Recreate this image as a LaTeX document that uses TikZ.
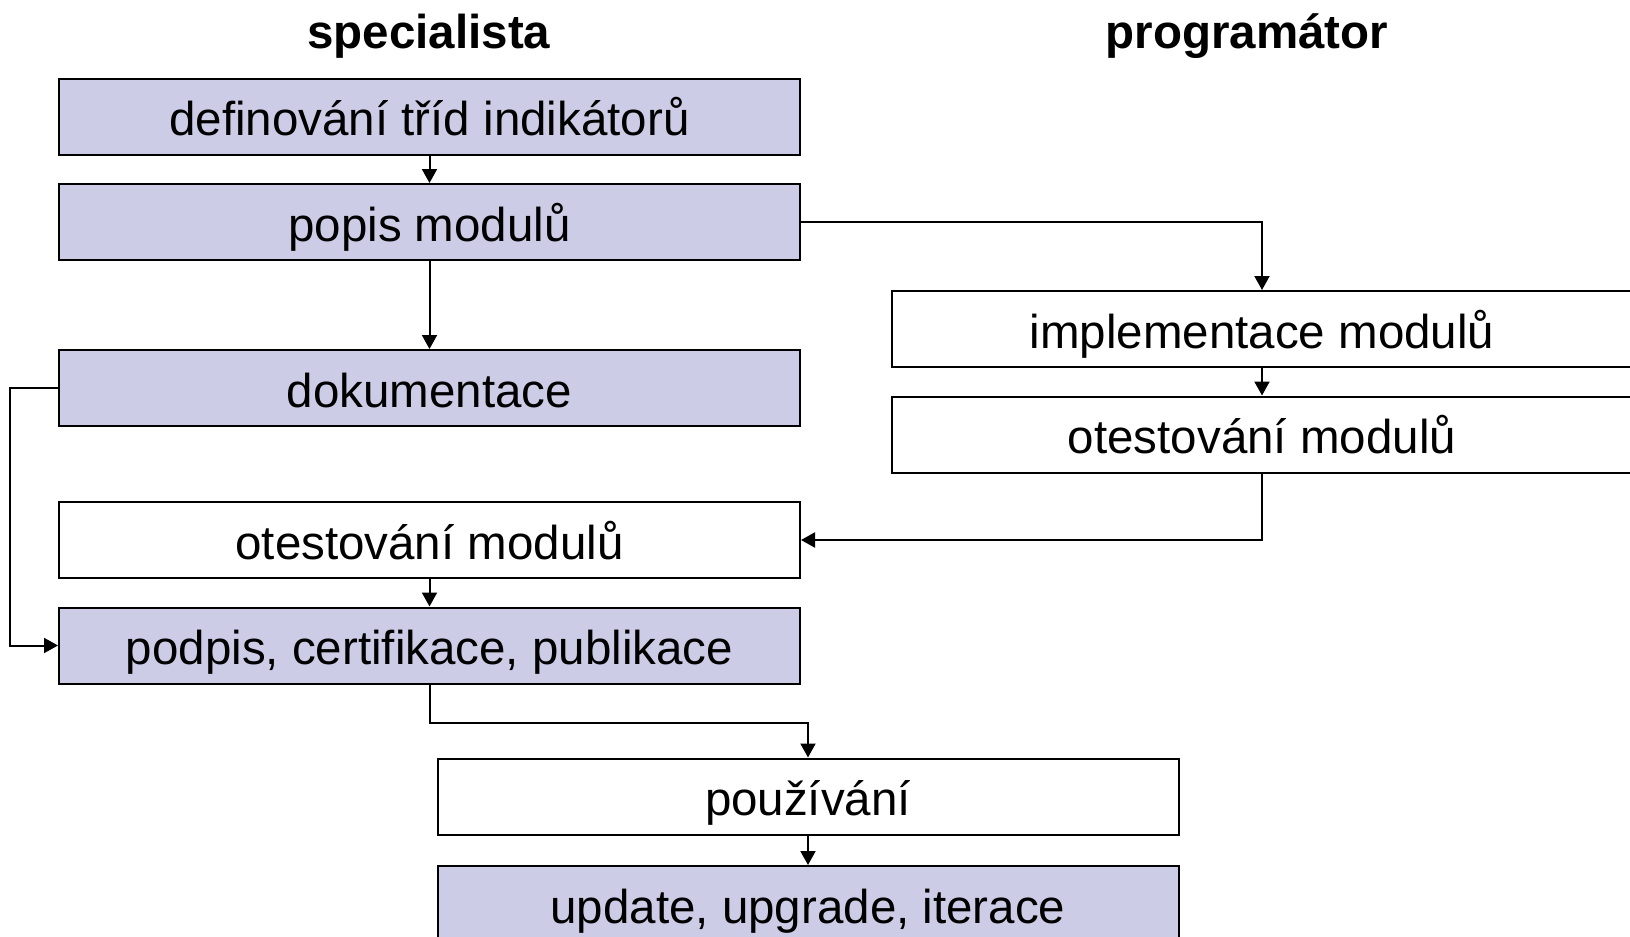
\documentclass[tikz,border=0pt]{standalone}
\usepackage{fontspec}
\setmainfont{Liberation Sans}
\usepackage{xcolor}
\usepackage{tikz}
\usetikzlibrary{arrows.meta,positioning,calc}
\definecolor{fialova}{RGB}{204,204,230}

\begin{document}
\begin{tikzpicture}[x=0.5pt, y=-0.5pt, >={Triangle[length=7pt,width=7.5pt]},
    every node/.style={font=\fontsize{23.75}{28}\selectfont},
    krok/.style={draw, line width=1pt, minimum width=370.5pt, minimum height=38pt, inner sep=0pt,
        text height=19pt, text depth=0pt},
    spec/.style={krok, fill=fialova},
    sipka/.style={->, line width=1pt}]
    \useasboundingbox (0,0) rectangle (1630,937);

    % nadpisy sloupcu
    \node[anchor=base] (hlspec) at (429,48) {\textbf{specialista}};
    \node[anchor=base] (hlprog) at (1247,48) {\textbf{programátor}};

    % kroky specialisty
    \node[spec] (def) at (429.5,116.5) {definování tříd indikátorů};
    \node[spec] (popis) at (429.5,222) {popis modulů};
    \node[spec] (dok) at (429.5,388) {dokumentace};
    \node[krok] (testS) at (429.5,540) {otestování modulů};
    \node[spec] (podpis) at (429.5,645.5) {podpis, certifikace, publikace};

    % kroky programatora
    \node[krok] (impl) at (1262,329) {implementace modulů};
    \node[krok] (testP) at (1262,434.5) {otestování modulů};

    % spolecne kroky
    \node[krok] (pouz) at (808,796.5) {používání};
    \node[spec] (upd) at (808,904) {update, upgrade, iterace};

    % spojnice
    \draw[sipka] (def) -- (popis);
    \draw[sipka] (popis.east) -| (impl.north);
    \draw[sipka] (popis) -- (dok);
    \draw[sipka] (dok.west) -- ++(-48,0) |- (podpis.west);
    \draw[sipka] (impl) -- (testP);
    \draw[sipka] (testP.south) |- (testS.east);
    \draw[sipka] (testS) -- (podpis);
    \draw[sipka] (podpis.south) -- ++(0,38) -| (pouz.north);
    \draw[sipka] (pouz) -- (upd);
\end{tikzpicture}
\end{document}
